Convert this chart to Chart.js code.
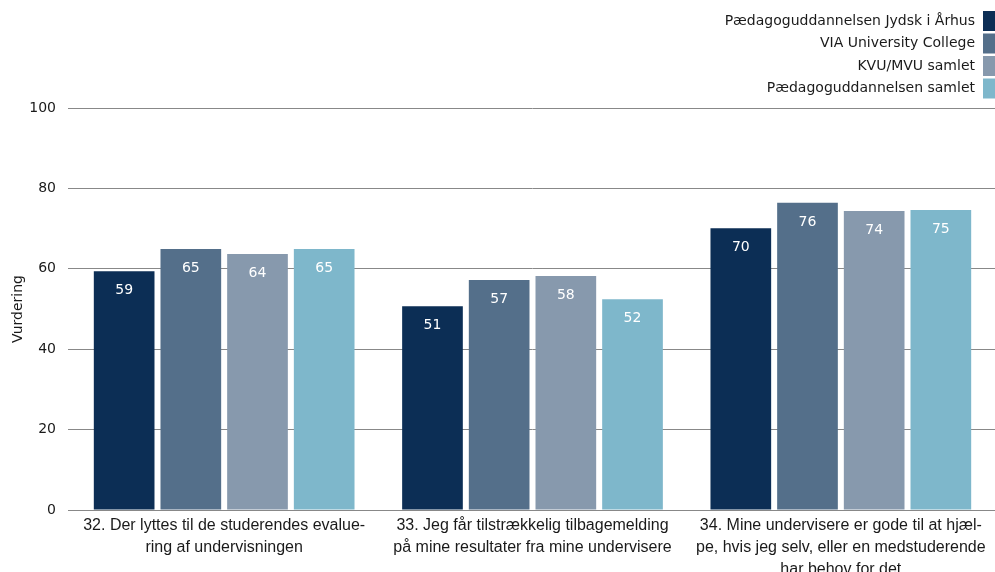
<!DOCTYPE html>
<html><head><meta charset="utf-8">
<script src="https://cdn.jsdelivr.net/npm/chart.js@4.4.1/dist/chart.umd.min.js"></script>
<style>html,body{margin:0;padding:0;background:#fff}#wrap{width:995px;height:572px;position:relative}</style>
</head><body><div id="wrap"><canvas id="c" width="995" height="572"></canvas></div>
<script>
const categories = [
  ["32. Der lyttes til de studerendes evalue-", "ring af undervisningen"],
  ["33. Jeg får tilstrækkelig tilbagemelding", "på mine resultater fra mine undervisere"],
  ["34. Mine undervisere er gode til at hjæl-", "pe, hvis jeg selv, eller en medstuderende", "har behov for det"]
];
const seriesNames = ["Pædagoguddannelsen Jydsk i Århus", "VIA University College", "KVU/MVU samlet", "Pædagoguddannelsen samlet"];
const jydsk = [59.4, 50.7, 70.1];
const via = [64.9, 57.2, 76.4];
const kvu = [63.7, 58.2, 74.4];
const pedSamlet = [64.9, 52.4, 74.6];
const colors = ["#0c2e55", "#546f8a", "#8799ad", "#7eb7cb"];
const yTicks = [0, 20, 40, 60, 80, 100];

const FONT = "'DejaVu Sans', sans-serif";
const XFONT = "'Liberation Sans', Arial, sans-serif";

const valueLabels = {
  id: 'valueLabels',
  afterDatasetsDraw(chart) {
    const ctx = chart.ctx;
    ctx.save();
    ctx.font = "14px " + FONT;
    ctx.fillStyle = "#ffffff";
    ctx.textAlign = "center";
    ctx.textBaseline = "middle";
    chart.data.datasets.forEach((ds, i) => {
      chart.getDatasetMeta(i).data.forEach((bar, j) => {
        ctx.fillText(String(Math.round(ds.data[j])), bar.x, bar.y + 19);
      });
    });
    ctx.restore();
  }
};

const customLegend = {
  id: 'customLegend',
  afterDraw(chart) {
    const ctx = chart.ctx;
    ctx.save();
    ctx.font = "14px " + FONT;
    ctx.textAlign = "right";
    ctx.textBaseline = "middle";
    chart.data.datasets.forEach((ds, i) => {
      const cy = 21 + i * 22.5;
      ctx.fillStyle = ds.backgroundColor;
      ctx.fillRect(983, cy - 10, 12, 20);
      ctx.fillStyle = "#1a1a1a";
      ctx.fillText(ds.label, 975, cy);
    });
    ctx.restore();
  }
};

new Chart(document.getElementById('c'), {
  type: 'bar',
  data: {
    labels: categories,
    datasets: [
      { label: seriesNames[0], data: jydsk, backgroundColor: colors[0] },
      { label: seriesNames[1], data: via, backgroundColor: colors[1] },
      { label: seriesNames[2], data: kvu, backgroundColor: colors[2] },
      { label: seriesNames[3], data: pedSamlet, backgroundColor: colors[3] }
    ]
  },
  options: {
    responsive: false,
    animation: false,
    layout: { padding: { top: 108, right: 0, left: 0, bottom: 0 } },
    datasets: { bar: { categoryPercentage: 0.865, barPercentage: 0.91 } },
    plugins: { legend: { display: false }, tooltip: { enabled: false } },
    scales: {
      x: {
        afterFit(scale) { scale.height = 62; },
        grid: { display: false, drawTicks: false },
        border: { display: true, color: "#888888", width: 1 },
        ticks: { color: "#1a1a1a", font: { family: XFONT, size: 16, lineHeight: 1.375 }, padding: 5, maxRotation: 0, autoSkip: false }
      },
      y: {
        min: 0, max: 100,
        afterFit(scale) { scale.width = 70; },
        afterBuildTicks(axis) { axis.ticks = yTicks.map(v => ({ value: v })); },
        grid: { color: "#888888", lineWidth: 1, tickLength: 2, drawTicks: true },
        border: { display: false },
        ticks: { color: "#1a1a1a", font: { family: FONT, size: 14 }, padding: 12 },
        title: { display: true, text: "Vurdering", color: "#1a1a1a", font: { family: FONT, size: 14 }, padding: { top: 10, bottom: 0 } }
      }
    }
  },
  plugins: [valueLabels, customLegend]
});
</script></body></html>
